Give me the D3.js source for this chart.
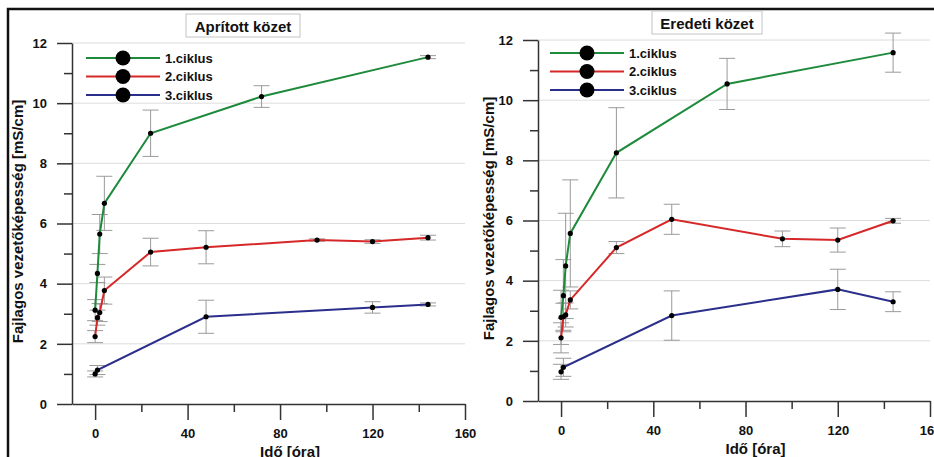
<!DOCTYPE html>
<html>
<head>
<meta charset="utf-8">
<script src="https://cdn.jsdelivr.net/npm/d3@7"></script>
<style>
body { margin: 0; background: #fff; }
text { font-family: "Liberation Sans", Arial, sans-serif; font-weight: bold; }
</style>
</head>
<body>
<div id="chart"></div>
<script>
// data
var cycleNames = ["1.ciklus", "2.ciklus", "3.ciklus"];
var cycleColors = ["#1e8a3c", "#d62828", "#2b2f8c"];
var xTicksMajor = [0, 40, 80, 120, 160];
var xTicksMinor = [20, 60, 100, 140];
var yTicksMajor = [0, 2, 4, 6, 8, 10, 12];
var yTicksMinor = [1, 3, 5, 7, 9, 11];

// Aprított közet
var apTime1 = [0, 1, 2, 4, 24, 72, 144];
var apVal1 = [3.12, 4.34, 5.65, 6.67, 9.0, 10.22, 11.53];
var apErr1 = [0.35, 0.3, 0.65, 0.9, 0.77, 0.36, 0.05];
var apTime2 = [0, 1, 2, 4, 24, 48, 96, 120, 144];
var apVal2 = [2.24, 2.87, 3.04, 3.77, 5.05, 5.21, 5.45, 5.40, 5.53];
var apErr2 = [0.2, 0.25, 0.3, 0.45, 0.46, 0.55, 0.04, 0.06, 0.08];
var apTime3 = [0, 1, 48, 120, 144];
var apVal3 = [1.0, 1.13, 2.90, 3.21, 3.31];
var apErr3 = [0.1, 0.15, 0.55, 0.19, 0.05];

// Eredeti közet
var erTime1 = [0, 1, 2, 4, 24, 72, 144];
var erVal1 = [2.78, 3.5, 4.49, 5.57, 8.25, 10.54, 11.58];
var erErr1 = [0.9, 1.2, 1.75, 1.78, 1.5, 0.85, 0.65];
var erTime2 = [0, 1, 2, 4, 24, 48, 96, 120, 144];
var erVal2 = [2.1, 2.8, 2.86, 3.36, 5.10, 6.04, 5.39, 5.35, 5.99];
var erErr2 = [0.5, 0.45, 0.4, 0.3, 0.2, 0.5, 0.26, 0.4, 0.08];
var erTime3 = [0, 1, 48, 120, 144];
var erVal3 = [0.97, 1.12, 2.84, 3.71, 3.30];
var erErr3 = [0.25, 0.3, 0.82, 0.67, 0.33];

var svg = d3.select("#chart").append("svg")
	.attr("width", 934)
	.attr("height", 457);

// outer frame
svg.append("rect")
	.attr("x", 8).attr("y", 9)
	.attr("width", 1000).attr("height", 600)
	.attr("fill", "none")
	.attr("stroke", "#111")
	.attr("stroke-width", 2.5);

function pack(times, vals, errs){
	return times.map(function(t, i){ return {x: t, y: vals[i], e: errs[i]}; });
}

function drawPanel(p){
	var xScale = d3.scaleLinear().domain([-10, 160]).range([p.left, p.right]);
	var yScale = d3.scaleLinear().domain([0, 12]).range([p.bottom, p.top]);
	var g = svg.append("g");

	// grid lines
	g.selectAll(".grid").data(yTicksMajor.slice(1)).enter().append("line")
		.attr("x1", p.left).attr("x2", p.right)
		.attr("y1", function(d){ return yScale(d); })
		.attr("y2", function(d){ return yScale(d); })
		.attr("stroke", "#dcdcdc")
		.attr("stroke-width", 1);

	// x axis, ticks hang below
	g.append("g")
		.attr("transform", "translate(0," + p.bottom + ")")
		.call(d3.axisBottom(xScale).tickValues(xTicksMajor).tickSize(16).tickPadding(9).tickSizeOuter(0));
	g.append("g")
		.attr("transform", "translate(0," + p.bottom + ")")
		.call(d3.axisBottom(xScale).tickValues(xTicksMinor).tickSize(8).tickFormat("").tickSizeOuter(0))
		.select(".domain").remove();

	// y axis
	g.append("g")
		.attr("transform", "translate(" + p.left + ",0)")
		.call(d3.axisLeft(yScale).tickValues(yTicksMajor).tickSize(15).tickPadding(10).tickSizeOuter(0));
	g.append("g")
		.attr("transform", "translate(" + p.left + ",0)")
		.call(d3.axisLeft(yScale).tickValues(yTicksMinor).tickSize(8).tickFormat("").tickSizeOuter(0))
		.select(".domain").remove();

	g.selectAll(".domain").attr("stroke", "#333").attr("stroke-width", 1.5);
	g.selectAll(".tick line").attr("stroke", "#333").attr("stroke-width", 1.5);
	g.selectAll(".tick text")
		.attr("font-size", 13)
		.attr("font-family", "Liberation Sans, Arial, sans-serif")
		.attr("font-weight", "bold")
		.attr("fill", "#111");

	// axis titles
	g.append("text")
		.attr("x", (xScale(0) + xScale(160)) / 2 + 10)
		.attr("y", p.bottom + 53)
		.attr("text-anchor", "middle")
		.attr("font-size", 15)
		.attr("fill", "#111")
		.text("Idő [óra]");
	g.append("text")
		.attr("transform", "translate(" + p.ylabX + "," + ((p.top + p.bottom) / 2 - 2) + ") rotate(-90)")
		.attr("text-anchor", "middle")
		.attr("font-size", 15)
		.attr("fill", "#111")
		.text("Fajlagos vezetőképesség [mS/cm]");

	// title box
	g.append("rect")
		.attr("x", p.titleX - p.titleW / 2).attr("y", p.titleY - 18)
		.attr("width", p.titleW).attr("height", 23)
		.attr("fill", "#fff")
		.attr("stroke", "#c4c4c4");
	g.append("text")
		.attr("x", p.titleX).attr("y", p.titleY)
		.attr("text-anchor", "middle")
		.attr("font-size", 15)
		.attr("fill", "#111")
		.text(p.title);

	var lineGen = d3.line()
		.x(function(d){ return xScale(d.x); })
		.y(function(d){ return yScale(d.y); });

	for(var a = 0; a < p.series.length; a++){
		var data = p.series[a];
		// error bars
		var eb = g.append("g").attr("stroke", "#9a9a9a").attr("stroke-width", 1);
		eb.selectAll(".v").data(data).enter().append("line")
			.attr("x1", function(d){ return xScale(d.x); })
			.attr("x2", function(d){ return xScale(d.x); })
			.attr("y1", function(d){ return yScale(d.y + d.e); })
			.attr("y2", function(d){ return yScale(d.y - d.e); });
		eb.selectAll(".t").data(data).enter().append("line")
			.attr("x1", function(d){ return xScale(d.x) - 8; })
			.attr("x2", function(d){ return xScale(d.x) + 8; })
			.attr("y1", function(d){ return yScale(d.y + d.e); })
			.attr("y2", function(d){ return yScale(d.y + d.e); });
		eb.selectAll(".b").data(data).enter().append("line")
			.attr("x1", function(d){ return xScale(d.x) - 8; })
			.attr("x2", function(d){ return xScale(d.x) + 8; })
			.attr("y1", function(d){ return yScale(d.y - d.e); })
			.attr("y2", function(d){ return yScale(d.y - d.e); });
	}
	for(var a = 0; a < p.series.length; a++){
		var data = p.series[a];
		g.append("path")
			.datum(data)
			.attr("d", lineGen)
			.attr("fill", "none")
			.attr("stroke", cycleColors[a])
			.attr("stroke-width", 2);
		g.selectAll(".pt" + a).data(data).enter().append("circle")
			.attr("cx", function(d){ return xScale(d.x); })
			.attr("cy", function(d){ return yScale(d.y); })
			.attr("r", 2.6)
			.attr("fill", "#000");
	}

	// legend
	for(var b = 0; b < cycleNames.length; b++){
		var ly = p.legY + b * 18.5;
		g.append("line")
			.attr("x1", p.legX).attr("x2", p.legX + 74)
			.attr("y1", ly).attr("y2", ly)
			.attr("stroke", cycleColors[b])
			.attr("stroke-width", 2);
		g.append("circle")
			.attr("cx", p.legX + 37).attr("cy", ly)
			.attr("r", 7.5)
			.attr("fill", "#000");
		g.append("text")
			.attr("x", p.legX + 79).attr("y", ly + 4.5)
			.attr("font-size", 13)
			.attr("fill", "#111")
			.text(cycleNames[b]);
	}
}

drawPanel({
	left: 72, right: 465, top: 43, bottom: 404,
	ylabX: 23, title: "Aprított közet", titleX: 243, titleY: 32, titleW: 114,
	legX: 86, legY: 58,
	series: [pack(apTime1, apVal1, apErr1), pack(apTime2, apVal2, apErr2), pack(apTime3, apVal3, apErr3)]
});
drawPanel({
	left: 538, right: 930, top: 40, bottom: 401,
	ylabX: 494, title: "Eredeti közet", titleX: 707, titleY: 29, titleW: 110,
	legX: 550, legY: 53,
	series: [pack(erTime1, erVal1, erErr1), pack(erTime2, erVal2, erErr2), pack(erTime3, erVal3, erErr3)]
});
</script>
</body>
</html>
